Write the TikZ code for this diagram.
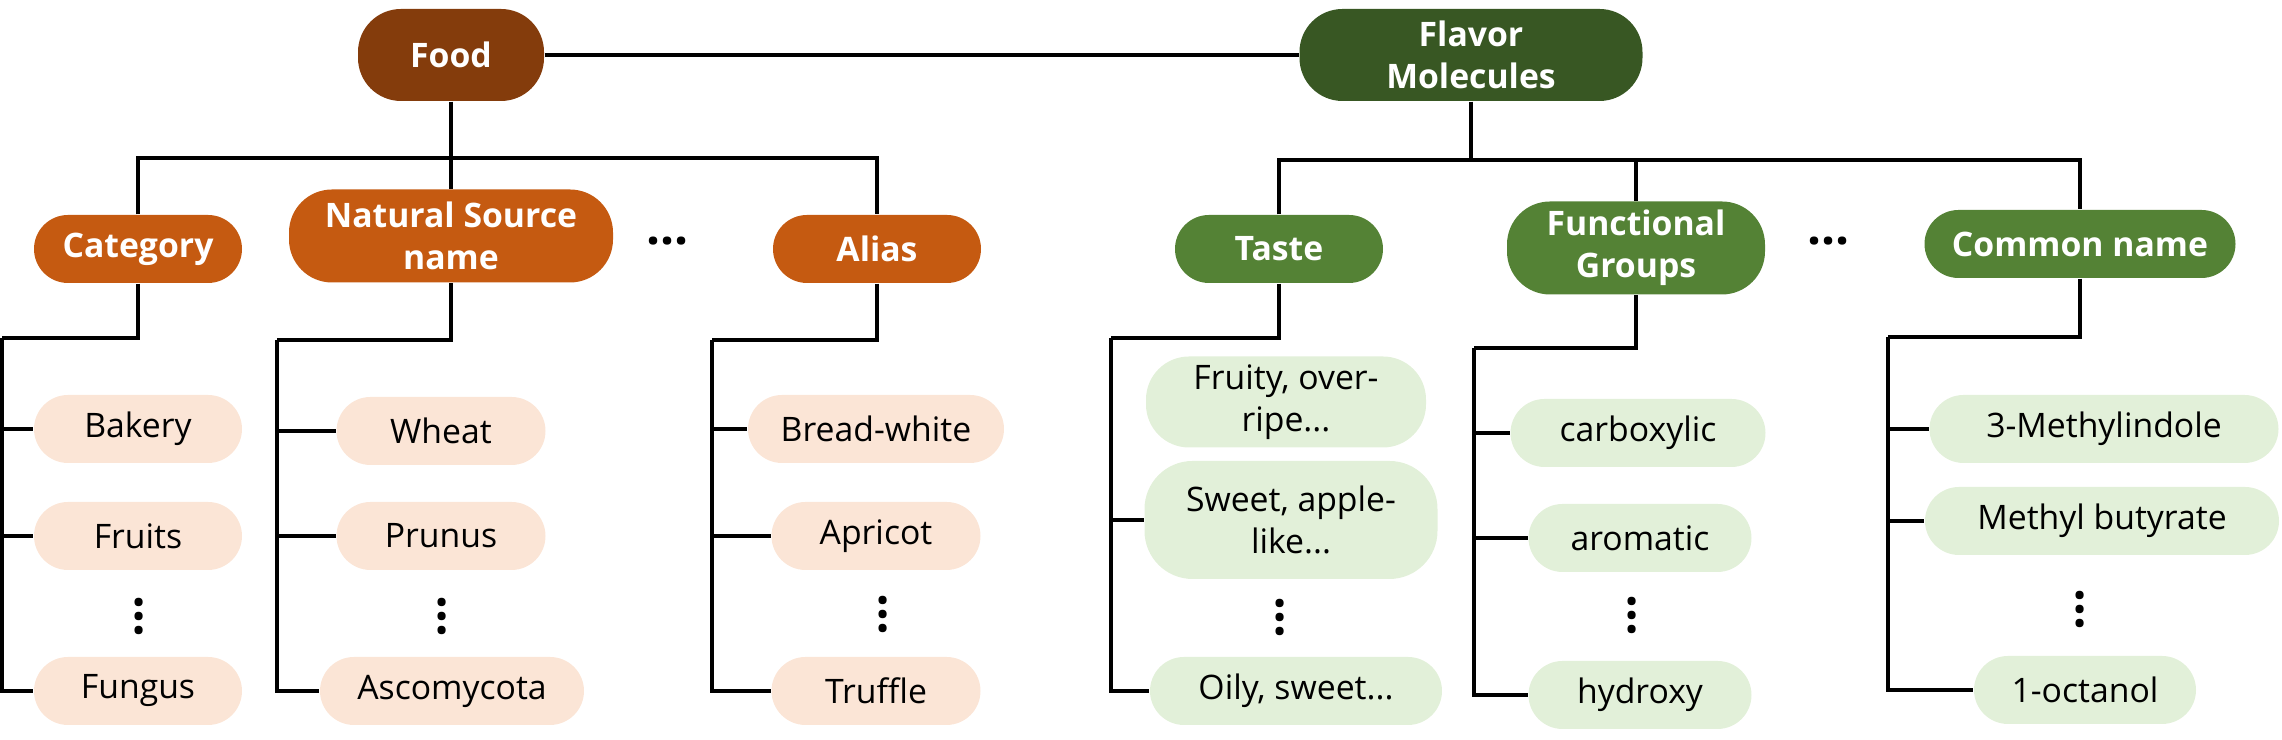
\documentclass[tikz,border=0pt]{standalone}
\usepackage{fontspec}
\setmainfont{Open Sans}
\usepackage{xcolor}
\usepackage{tikz}
\usetikzlibrary{positioning, calc}
\definecolor{foodcolor}{RGB}{132,60,12}
\definecolor{foodsubcolor}{RGB}{197,90,17}
\definecolor{foodleafcolor}{RGB}{251,229,214}
\definecolor{flavorcolor}{RGB}{56,87,35}
\definecolor{flavorsubcolor}{RGB}{84,130,53}
\definecolor{flavorleafcolor}{RGB}{226,240,217}

\begin{document}
\begin{tikzpicture}[
    pill/.style={draw=none, rounded corners=3.4mm, inner sep=0pt, minimum height=0.68cm, align=center, font=\fontsize{9.6pt}{12pt}\selectfont},
    tall/.style={rounded corners=4.3mm},
    root/.style={pill, tall, text=white, font=\fontsize{9.6pt}{12pt}\selectfont\bfseries, minimum height=0.92cm},
    attr/.style={pill, text=white, font=\fontsize{9.6pt}{12pt}\selectfont\bfseries},
    leaf/.style={pill, text=black},
    hdots/.style={inner sep=0pt, font=\fontsize{14pt}{14pt}\selectfont\bfseries},
    vdots/.style={hdots, rotate=90},
    branch/.style={line width=0.95pt, black}
]
    \useasboundingbox (0,0) rectangle (22.82,7.40);

    % roots
    \node[root, fill=foodcolor, minimum width=1.86cm] (food) at (4.51,6.85) {Food};
    \node[root, fill=flavorcolor, minimum width=3.43cm] (flavor) at (14.71,6.85) {Flavor\\Molecules};

    % food attributes
    \node[attr, fill=foodsubcolor, minimum width=2.08cm] (cat) at (1.38,4.91) {Category};
    \node[attr, tall, fill=foodsubcolor, minimum width=3.24cm, minimum height=0.93cm] (nat) at (4.51,5.04) {Natural Source\\name};
    \node[hdots] (fdots) at (6.68,4.99) {…};
    \node[attr, fill=foodsubcolor, minimum width=2.08cm] (ali) at (8.77,4.91) {Alias};

    % flavor attributes
    \node[attr, fill=flavorsubcolor, minimum width=2.08cm] (taste) at (12.79,4.91) {Taste};
    \node[attr, tall, fill=flavorsubcolor, minimum width=2.58cm, minimum height=0.93cm] (func) at (16.36,4.92) {Functional\\Groups};
    \node[hdots] (mdots) at (18.29,4.99) {…};
    \node[attr, fill=flavorsubcolor, minimum width=3.11cm] (com) at (20.80,4.96) {Common name};

    % food leaves
    \node[leaf, fill=foodleafcolor, minimum width=2.08cm] (bak) at (1.38,3.11) {Bakery};
    \node[leaf, fill=foodleafcolor, minimum width=2.08cm] (fru) at (1.38,2.04) {Fruits};
    \node[vdots] (catdots) at (1.39,1.24) {…};
    \node[leaf, fill=foodleafcolor, minimum width=2.08cm] (fun) at (1.38,0.49) {Fungus};

    \node[leaf, fill=foodleafcolor, minimum width=2.09cm] (whe) at (4.41,3.09) {Wheat};
    \node[leaf, fill=foodleafcolor, minimum width=2.09cm] (pru) at (4.41,2.04) {Prunus};
    \node[vdots] (natdots) at (4.42,1.24) {…};
    \node[leaf, fill=foodleafcolor, minimum width=2.64cm] (asc) at (4.52,0.49) {Ascomycota};

    \node[leaf, fill=foodleafcolor, minimum width=2.56cm] (bre) at (8.76,3.11) {Bread-white};
    \node[leaf, fill=foodleafcolor, minimum width=2.09cm] (apr) at (8.76,2.04) {Apricot};
    \node[vdots] (alidots) at (8.83,1.26) {…};
    \node[leaf, fill=foodleafcolor, minimum width=2.09cm] (tru) at (8.76,0.49) {Truffle};

    % flavor leaves
    \node[leaf, tall, fill=flavorleafcolor, minimum width=2.80cm, minimum height=0.91cm] (frt) at (12.86,3.38) {Fruity, over-\\ripe...};
    \node[leaf, rounded corners=4.8mm, fill=flavorleafcolor, minimum width=2.93cm, minimum height=1.18cm] (swe) at (12.91,2.20) {Sweet, apple-\\like...};
    \node[vdots] (tastedots) at (12.80,1.23) {…};
    \node[leaf, fill=flavorleafcolor, minimum width=2.92cm] (oil) at (12.96,0.49) {Oily, sweet...};

    \node[leaf, fill=flavorleafcolor, minimum width=2.55cm] (car) at (16.38,3.07) {carboxylic};
    \node[leaf, fill=flavorleafcolor, minimum width=2.23cm] (aro) at (16.40,2.02) {aromatic};
    \node[vdots] (funcdots) at (16.32,1.25) {…};
    \node[leaf, fill=flavorleafcolor, minimum width=2.23cm] (hyd) at (16.40,0.45) {hydroxy};

    \node[leaf, fill=flavorleafcolor, minimum width=3.49cm] (mei) at (21.04,3.11) {3-Methylindole};
    \node[leaf, fill=flavorleafcolor, minimum width=3.54cm] (meb) at (21.02,2.19) {Methyl butyrate};
    \node[vdots] (comdots) at (20.80,1.31) {…};
    \node[leaf, fill=flavorleafcolor, minimum width=2.22cm] (oct) at (20.85,0.50) {1-octanol};

    % junctions
    \coordinate (foodbus) at (4.51,5.82);
    \coordinate (flavbus) at (14.71,5.80);
    \coordinate (catbus) at (0.02,4.02);
    \coordinate (natbus) at (2.77,4.00);
    \coordinate (alibus) at (7.12,4.00);
    \coordinate (tastebus) at (11.11,4.02);
    \coordinate (funcbus) at (14.74,3.92);
    \coordinate (combus) at (18.88,4.03);

    % connectors
    \draw[line width=1.3pt] (food.east) -- (flavor.west);

    \draw[branch] (food.south) -- (foodbus) -- (nat.north);
    \draw[branch] (cat.north) |- (foodbus) -| (ali.north);
    \draw[branch] (flavor.south) -- (flavbus);
    \draw[branch] (taste.north) |- (flavbus) -| (com.north);
    \draw[branch] (func.north) -- (func.north |- flavbus);

    \draw[branch] (cat.south) |- (catbus);
    \draw[branch] (nat.south) |- (natbus);
    \draw[branch] (ali.south) |- (alibus);
    \draw[branch] (taste.south) |- (tastebus);
    \draw[branch] (func.south) |- (funcbus);
    \draw[branch] (com.south) |- (combus);

    \foreach \leaf in {bak, fru, fun} \draw[branch] (catbus) |- (\leaf.west);
    \foreach \leaf in {whe, pru, asc} \draw[branch] (natbus) |- (\leaf.west);
    \foreach \leaf in {bre, apr, tru} \draw[branch] (alibus) |- (\leaf.west);
    \foreach \leaf in {swe, oil} \draw[branch] (tastebus) |- (\leaf.west);
    \foreach \leaf in {car, aro, hyd} \draw[branch] (funcbus) |- (\leaf.west);
    \foreach \leaf in {mei, meb, oct} \draw[branch] (combus) |- (\leaf.west);
\end{tikzpicture}
\end{document}
